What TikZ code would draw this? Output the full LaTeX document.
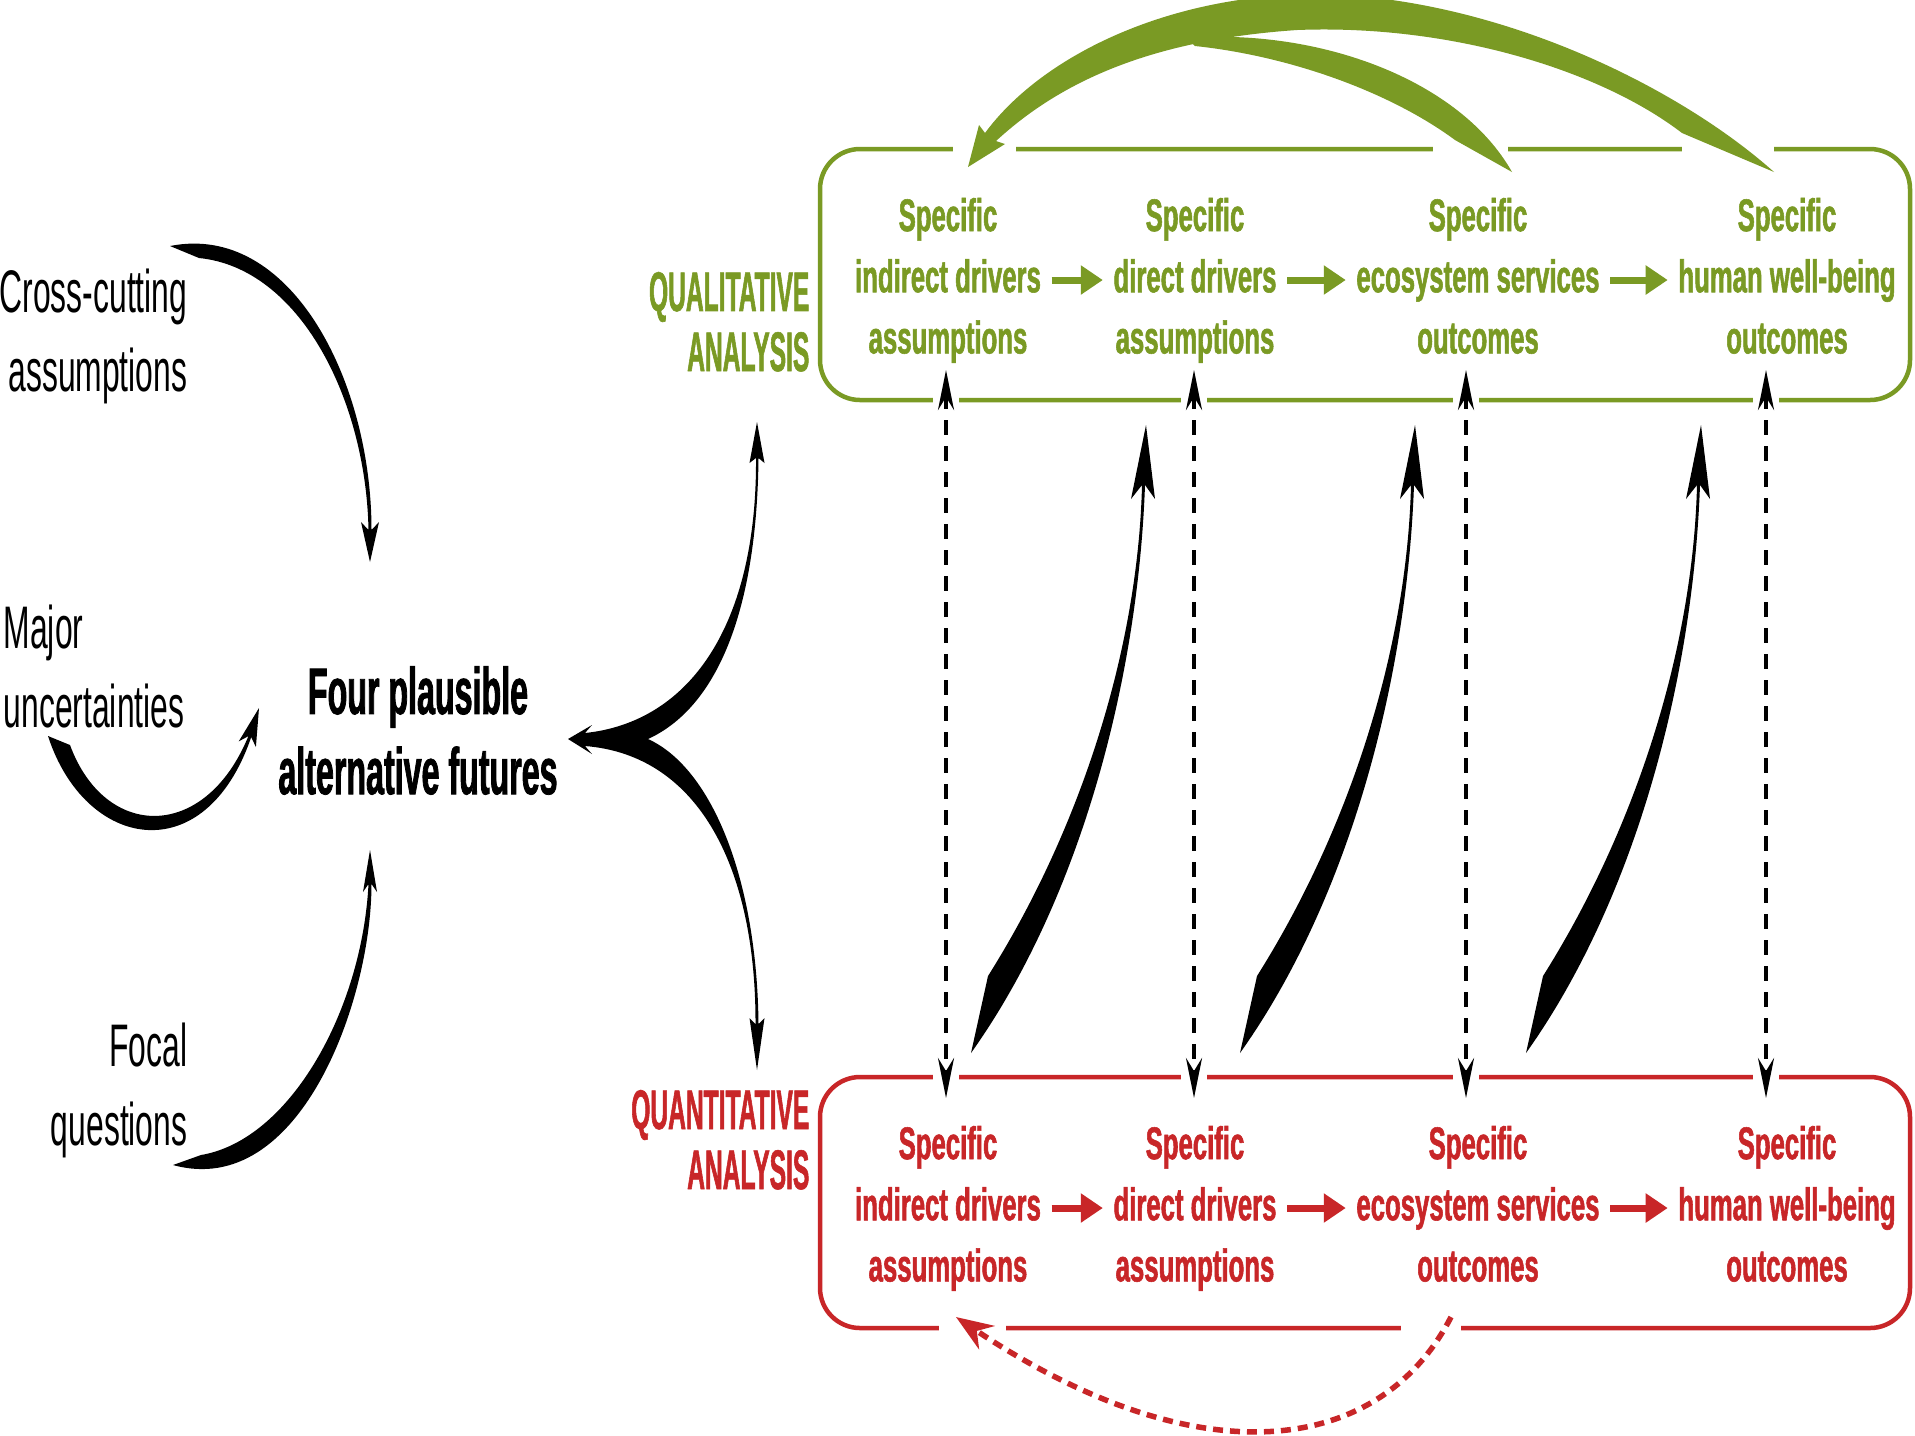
\documentclass[tikz,border=0pt]{standalone}
\usepackage{fontspec}
\setmainfont{Liberation Sans}
% condensed cuts of the same sans face
\newfontfamily\fntbox{Liberation Sans}[FakeStretch=0.563, FakeBold=1.2]
\newfontfamily\fntfut{Liberation Sans}[FakeStretch=0.49, FakeBold=1.2]
\newfontfamily\fntside{Liberation Sans}[FakeStretch=0.53]
\newfontfamily\fntana{Liberation Sans}[FakeStretch=0.44, FakeBold=1]
\usetikzlibrary{arrows.meta}
\definecolor{qgreen}{RGB}{122,154,36}
\definecolor{qred}{RGB}{200,38,40}

\begin{document}
\begin{tikzpicture}[x=0.1mm,y=-0.1mm,
  frame/.style={rounded corners=4mm, line width=0.45mm, minimum width=109mm,
    minimum height=25.1mm, inner sep=0pt, outer sep=0pt},
  boxtext/.style={font=\fntbox\bfseries\fontsize{13}{17.4}\selectfont,
    align=center, inner xsep=1mm, inner ysep=0pt},
  side/.style={font=\fntside\fontsize{17.1}{22.5}\selectfont, inner sep=0pt},
  fut/.style={font=\fntfut\bfseries\fontsize{18.7}{22.8}\selectfont,
    align=center, inner sep=0pt},
  ana/.style={font=\fntana\bfseries\fontsize{15.9}{17.1}\selectfont,
    align=right, inner sep=0pt, anchor=east},
  flowarr/.style={line width=0.7mm, -{Triangle[length=2.2mm,width=2.8mm]}},
  linkarr/.style={line width=0.38mm, dash pattern=on 1.5mm off 1.1mm,
    {Stealth[length=4mm,width=1.6mm]}-{Stealth[length=4mm,width=1.6mm]},
    shorten <=-3mm, shorten >=-2.1mm},
  swoosh/.style={fill=black, draw=none},
  gswoosh/.style={fill=qgreen, draw=none}
]
\fill[white] (0,0) rectangle (1915,1435);
\useasboundingbox (0,0) rectangle (1915,1435);

% ---------- the two analysis frames ----------
\node[frame, draw=qgreen] (gbox) at (1365,274.5) {};
\node[frame, draw=qred]   (rbox) at (1365,1202.5) {};

% column positions of the vertical links
\coordinate (v1) at (946,0);
\coordinate (v2) at (1194,0);
\coordinate (v3) at (1466,0);
\coordinate (v4) at (1766,0);

% openings in the frame lines where arrows pass
\foreach \a/\b in {953/1016, 1433/1508, 1682/1774}
  \fill[white] (\a,140) rectangle (\b,160);
\foreach \x in {946,1194,1466,1766} {
  \fill[white] (\x-13,390) rectangle (\x+13,410);
  \fill[white] (\x-13,1067) rectangle (\x+13,1087);
}
\foreach \a/\b in {939/1006, 1401/1461}
  \fill[white] (\a,1318) rectangle (\b,1338);

% ---------- labels ----------
\node[ana, text=qgreen] (qual) at (810,329) {QUALITATIVE\strut\\ANALYSIS\strut};
\node[ana, text=qred]   (quan) at (810,1147) {QUANTITATIVE\strut\\ANALYSIS\strut};

\node[boxtext, text=qgreen] (g1) at (948,280)  {Specific\strut\\indirect drivers\strut\\assumptions\strut};
\node[boxtext, text=qgreen] (g2) at (1195,280) {Specific\strut\\direct drivers\strut\\assumptions\strut};
\node[boxtext, text=qgreen] (g3) at (1478,280) {Specific\strut\\ecosystem services\strut\\outcomes\strut};
\node[boxtext, text=qgreen] (g4) at (1787,280) {Specific\strut\\human well-being\strut\\outcomes\strut};

\node[boxtext, text=qred] (r1) at (948,1208)  {Specific\strut\\indirect drivers\strut\\assumptions\strut};
\node[boxtext, text=qred] (r2) at (1195,1208) {Specific\strut\\direct drivers\strut\\assumptions\strut};
\node[boxtext, text=qred] (r3) at (1478,1208) {Specific\strut\\ecosystem services\strut\\outcomes\strut};
\node[boxtext, text=qred] (r4) at (1787,1208) {Specific\strut\\human well-being\strut\\outcomes\strut};

\node[side, anchor=east, align=right] (cc) at (188,336)  {Cross-cutting\strut\\assumptions\strut};
\node[side, anchor=west, align=left]  (mu) at (3,672)    {Major\strut\\uncertainties\strut};
\node[side, anchor=east, align=right] (fq) at (188,1090) {Focal\strut\\questions\strut};
\node[fut] (four) at (418,738) {Four plausible\strut\\alternative futures\strut};

% ---------- chains inside the frames ----------
\draw[flowarr, qgreen] (g1) -- (g2);
\draw[flowarr, qgreen] (g2) -- (g3);
\draw[flowarr, qgreen] (g3) -- (g4);
\draw[flowarr, qred] (r1) -- (r2);
\draw[flowarr, qred] (r2) -- (r3);
\draw[flowarr, qred] (r3) -- (r4);

% ---------- dashed two-way links between the frames ----------
\foreach \v in {v1,v2,v3,v4}
  \draw[linkarr] (gbox.south -| \v) -- (rbox.north -| \v);

% ---------- tapered upward arrows from the quantitative frame ----------
\foreach \s in {0,269,555}
  \fill[swoosh, shift={(\s,0)}] (971,1053) -- (988,976)
    .. controls (1080,830) and (1138,650) .. (1142,485)
    -- (1131,499) -- (1146,425) -- (1155,499) -- (1145,485)
    .. controls (1138,680) and (1080,900) .. (971,1053) -- cycle;

% ---------- green feedback arcs over the qualitative frame ----------
\fill[gswoosh] (1774,172) .. controls (1680,88) and (1500,-2) .. (1320,-6)
  .. controls (1165,-6) and (1040,58) .. (985,133)
  -- (979,125) -- (968,167) -- (1005,144) -- (996,141)
  .. controls (1060,82) and (1150,40) .. (1297,30)
  .. controls (1450,24) and (1600,70) .. (1682,133) -- cycle;
\fill[gswoosh] (1186,38) .. controls (1320,28) and (1460,80) .. (1512,172)
  -- (1455,140) .. controls (1390,92) and (1290,56) .. (1195,46) -- cycle;

% ---------- red dashed feedback under the quantitative frame ----------
\coordinate (rfrom) at (1451,1317);
\coordinate (rto) at (956,1317);
\draw[qred, line width=0.55mm, dash pattern=on 1mm off 0.7mm,
  -{Stealth[length=3.7mm,width=2.8mm]}]
  (rfrom) .. controls (1380,1455) and (1200,1480) .. (rto);

% ---------- inputs to the four futures ----------
\fill[swoosh] (170,246) .. controls (290,222) and (371.5,380) .. (371.5,530)
  -- (379,522) -- (370,562) -- (361,522) -- (368.5,530)
  .. controls (366,400) and (300,268) .. (199,258) -- cycle;
\fill[swoosh] (48,736) .. controls (85,850) and (205,872) .. (251.2,737.1)
  -- (255.9,747) -- (259,708) -- (238.7,741.4) -- (248.4,736.1)
  .. controls (205,842) and (105,840) .. (70,745) -- cycle;
\fill[swoosh] (173,1165) .. controls (300,1200) and (371.5,1000) .. (371.5,884)
  -- (377,892) -- (370,850) -- (363,892) -- (368.5,884)
  .. controls (362,1010) and (290,1140) .. (201,1155) -- cycle;

% ---------- forked arrow between the futures and both analyses ----------
\fill[swoosh] (568,739) -- (592,725) -- (585,733)
  .. controls (690,722) and (757,625) .. (756,458)
  -- (749.5,463) -- (757,422) -- (764.5,463) -- (758.5,458)
  .. controls (757,600) and (722,705) .. (648,739)
  .. controls (712,768) and (757,880) .. (758.5,1024)
  -- (764.5,1018) -- (757,1070) -- (749.5,1018) -- (755.5,1024)
  .. controls (756,870) and (700,755) .. (585,746)
  -- (592,754) -- cycle;
\end{tikzpicture}
\end{document}
